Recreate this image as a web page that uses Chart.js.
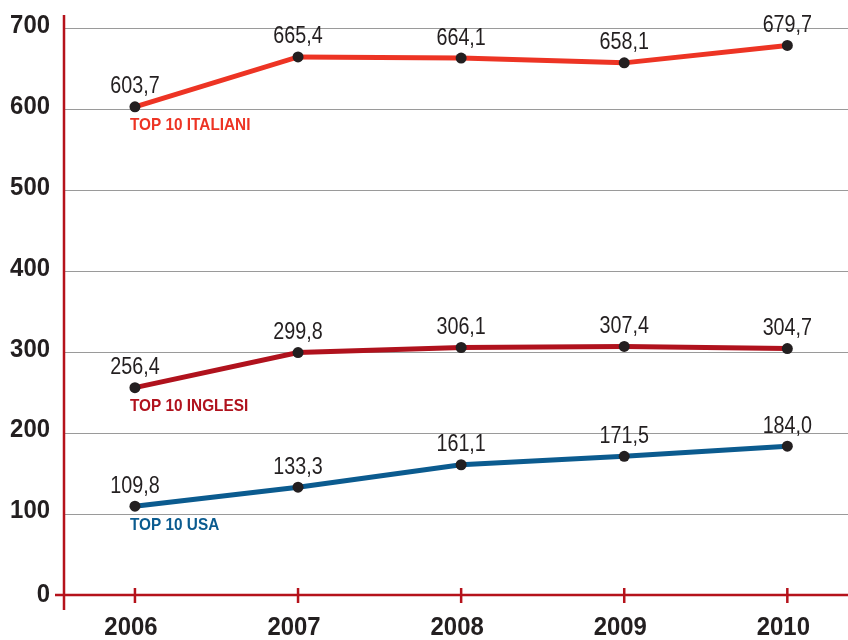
<!DOCTYPE html>
<html>
<head>
<meta charset="utf-8">
<script src="https://cdn.jsdelivr.net/npm/chart.js@4.4.1/dist/chart.umd.min.js"></script>
<style>
  html, body { margin: 0; padding: 0; background: #fff; }
  #wrap { width: 848px; height: 640px; }
</style>
</head>
<body>
<div id="wrap"><canvas id="chart" width="848" height="640"></canvas></div>
<script>
const years = [2006, 2007, 2008, 2009, 2010]
const yTicks = [0, 100, 200, 300, 400, 500, 600, 700]
const italiani = [603.7, 665.4, 664.1, 658.1, 679.7]
const inglesi = [256.4, 299.8, 306.1, 307.4, 304.7]
const usa = [109.8, 133.3, 161.1, 171.5, 184.0]
const seriesNames = ['TOP 10 ITALIANI', 'TOP 10 INGLESI', 'TOP 10 USA']
const seriesColours = ['#ED3424', '#B0121D', '#0B5B8F']

const axisRed = '#B5121B'
const ink = '#231F20'
const fontFamily = "'Liberation Sans', Arial, sans-serif"

const fmt = v => v.toFixed(1).replace('.', ',')

// squeeze text horizontally to mimic the condensed face of the original
const condensedText = (ctx, text, x, y, sx) => {
  ctx.save()
  ctx.translate(x, y)
  ctx.scale(sx, 1)
  ctx.fillText(text, 0, 0)
  ctx.restore()
}

const makeSet = (name, values, colour) => ({
  label: name,
  data: values.map((v, i) => ({ x: years[i], y: v })),
  borderColor: colour,
  borderWidth: 5,
  pointRadius: 5.5,
  pointHoverRadius: 5.5,
  pointBackgroundColor: ink,
  pointBorderWidth: 0,
  tension: 0
})

// value labels above points + series name under the first point
const labelsPlugin = {
  id: 'labels',
  afterDatasetsDraw (chart) {
    const ctx = chart.ctx
    ctx.save()
    chart.data.datasets.forEach((ds, di) => {
      const meta = chart.getDatasetMeta(di)
      ctx.fillStyle = ink
      ctx.font = `23.5px ${fontFamily}`
      ctx.textAlign = 'center'
      ctx.textBaseline = 'middle'
      meta.data.forEach((pt, i) => {
        condensedText(ctx, fmt(ds.data[i].y), pt.x, pt.y - 20, 0.84)
      })
      const first = meta.data[0]
      ctx.fillStyle = seriesColours[di]
      ctx.font = `bold 16.5px ${fontFamily}`
      ctx.textAlign = 'left'
      condensedText(ctx, ds.label, first.x - 5, first.y + 19, 0.93)
    })
    ctx.restore()
  }
}

// red axes, x ticks and the bold axis labels
const axesPlugin = {
  id: 'redAxes',
  afterDraw (chart) {
    const { ctx, chartArea, scales } = chart
    const y0 = scales.y.getPixelForValue(0)
    ctx.save()
    ctx.strokeStyle = axisRed
    ctx.lineWidth = 2.5
    ctx.beginPath()
    ctx.moveTo(chartArea.left, chartArea.top)
    ctx.lineTo(chartArea.left, y0 + 15)
    ctx.moveTo(chartArea.left - 9, y0)
    ctx.lineTo(chartArea.right, y0)
    years.forEach(yr => {
      const x = scales.x.getPixelForValue(yr)
      ctx.moveTo(x, y0 - 7)
      ctx.lineTo(x, y0 + 8)
    })
    ctx.stroke()

    ctx.fillStyle = ink
    ctx.font = `bold 26px ${fontFamily}`
    ctx.textBaseline = 'middle'
    ctx.textAlign = 'right'
    yTicks.forEach(v => {
      condensedText(ctx, String(v), chartArea.left - 14, scales.y.getPixelForValue(v) - (v === 0 ? 0 : 3), 0.92)
    })
    ctx.textAlign = 'center'
    years.forEach(yr => {
      condensedText(ctx, String(yr), scales.x.getPixelForValue(yr) - 4, y0 + 33, 0.92)
    })
    ctx.restore()
  }
}

new Chart(document.getElementById('chart'), {
  type: 'line',
  data: {
    datasets: [
      makeSet(seriesNames[0], italiani, seriesColours[0]),
      makeSet(seriesNames[1], inglesi, seriesColours[1]),
      makeSet(seriesNames[2], usa, seriesColours[2])
    ]
  },
  options: {
    responsive: false,
    animation: false,
    layout: { autoPadding: false, padding: { top: 15, right: 0, left: 0, bottom: 0 } },
    plugins: {
      legend: { display: false },
      tooltip: { enabled: false }
    },
    scales: {
      x: {
        type: 'linear',
        min: 2005.565,
        max: 2010.372,
        afterBuildTicks: s => { s.ticks = years.map(v => ({ value: v })) },
        afterFit: s => { s.height = 45 },
        grid: { display: false, drawTicks: false },
        border: { display: false },
        ticks: { display: false }
      },
      y: {
        min: 0,
        max: 717.3,
        afterBuildTicks: s => { s.ticks = yTicks.map(v => ({ value: v })) },
        afterFit: s => { s.width = 64 },
        grid: { color: '#9a9a9a', lineWidth: 1, drawTicks: false },
        border: { display: false },
        ticks: { display: false }
      }
    }
  },
  plugins: [labelsPlugin, axesPlugin]
})
</script>
</body>
</html>
